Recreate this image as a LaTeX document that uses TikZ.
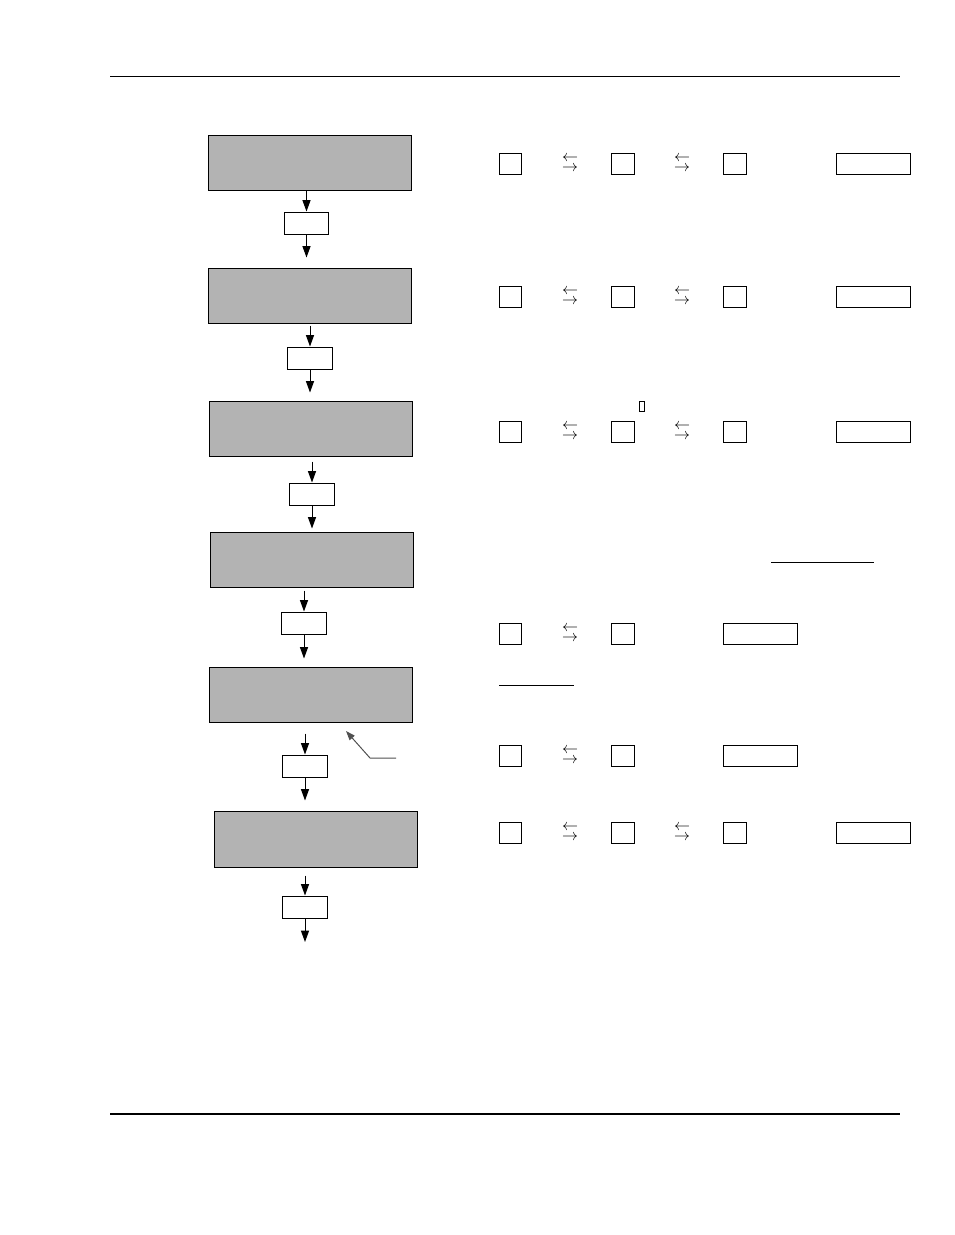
\documentclass[tikz,border=0pt]{standalone}
\usepackage{amsmath}
\usepackage{tikz}
\usetikzlibrary{arrows.meta}
\definecolor{panelgray}{RGB}{179,179,179}
\definecolor{pointergray}{RGB}{80,80,80}

\begin{document}
\begin{tikzpicture}[x=0.75pt,y=-0.75pt,
    panel/.style={draw,fill=panelgray,minimum width=152.25pt,minimum height=41.25pt,inner sep=0pt,line width=0.75pt},
    keybox/.style={draw,fill=white,minimum width=33.5pt,minimum height=16.5pt,inner sep=0pt,line width=0.75pt},
    key/.style={draw,minimum width=17pt,minimum height=15.75pt,inner sep=0pt,line width=0.75pt},
    wide/.style={draw,minimum width=55.5pt,minimum height=15.75pt,inner sep=0pt,line width=0.75pt},
    flow/.style={-{Triangle[width=6pt,length=8.5pt]},line width=0.75pt},
    swap/.style={inner sep=0pt,font=\fontsize{13}{13}\selectfont}]
      \useasboundingbox (0,0) rectangle (954,1235);
      % page rules
      \draw[line width=0.75pt] (110,76)--(900,76);
      \draw[line width=1.5pt] (110,1114)--(900,1114);
      % display panels
      \node[panel] (g1) at (309.5,162.5) {};
      \node[panel] (g2) at (309.5,295.5) {};
      \node[panel] (g3) at (310.5,428.5) {};
      \node[panel] (g4) at (311.5,559.5) {};
      \node[panel] (g5) at (310.5,694.5) {};
      \node[panel,minimum height=42pt] (g6) at (315.5,839) {};
      % key boxes between panels
      \node[keybox] (s1) at (306.5,223) {};
      \node[keybox] (s2) at (310,358) {};
      \node[keybox] (s3) at (312,494) {};
      \node[keybox] (s4) at (304,623) {};
      \node[keybox] (s5) at (305,766) {};
      \node[keybox] (s6) at (305,907) {};
      \coordinate (end) at (305,942);
      \draw[flow] (g1.south -| s1) -- (s1.north);
      \draw[flow,shorten >=7.5pt] (s1.south) -- (g2.north -| s1);
      \draw[flow,shorten <=1.5pt] (g2.south -| s2) -- (s2.north);
      \draw[flow,shorten >=6pt] (s2.south) -- (g3.north -| s2);
      \draw[flow,shorten <=3.75pt] (g3.south -| s3) -- (s3.north);
      \draw[flow,shorten >=2.25pt] (s3.south) -- (g4.north -| s3);
      \draw[flow,shorten <=2.25pt] (g4.south -| s4) -- (s4.north);
      \draw[flow,shorten >=6pt] (s4.south) -- (g5.north -| s4);
      \draw[flow,shorten <=8.25pt] (g5.south -| s5) -- (s5.north);
      \draw[flow,shorten >=7.5pt] (s5.south) -- (g6.north -| s5);
      \draw[flow,shorten <=6pt] (g6.south -| s6) -- (s6.north);
      \draw[flow] (s6.south) -- (end);
      % pointer to panel 5
      \coordinate (p1) at (396,758);
      \coordinate (p2) at (370,758);
      \coordinate (p3) at (346,731);
      \draw[pointergray,line width=0.75pt,-{Triangle[width=5pt,length=7pt]}] (p1) -- (p2) -- (p3);
      % key sequences, three keys
      \foreach \r/\y in {1/163.5,2/296.5,3/431.5,6/832.5}{
        \node[key] (k\r a) at (510.5,\y) {};
        \node[key] (k\r b) at (623,\y) {};
        \node[key] (k\r c) at (735,\y) {};
        \node[wide] (w\r) at (873,\y) {};
        \node[swap] (x\r a) at (570,\y) {\shortstack{$\leftarrow$\\$\rightarrow$}};
        \node[swap] (x\r b) at (682,\y) {\shortstack{$\leftarrow$\\$\rightarrow$}};
      }
      % key sequences, two keys
      \foreach \r/\y in {4/633.5,5/755.5}{
        \node[key] (k\r a) at (510.5,\y) {};
        \node[key] (k\r b) at (623,\y) {};
        \node[wide] (w\r) at (760.5,\y) {};
        \node[swap] (x\r a) at (570,\y) {\shortstack{$\leftarrow$\\$\rightarrow$}};
      }
      % small glyph box and underlines
      \draw[line width=0.6pt] (639.5,401.5) rectangle (644.5,411.5);
      \draw[line width=0.75pt] (771,562)--(874,562);
      \draw[line width=0.75pt] (499,685)--(574,685);
    \end{tikzpicture}
\end{document}
